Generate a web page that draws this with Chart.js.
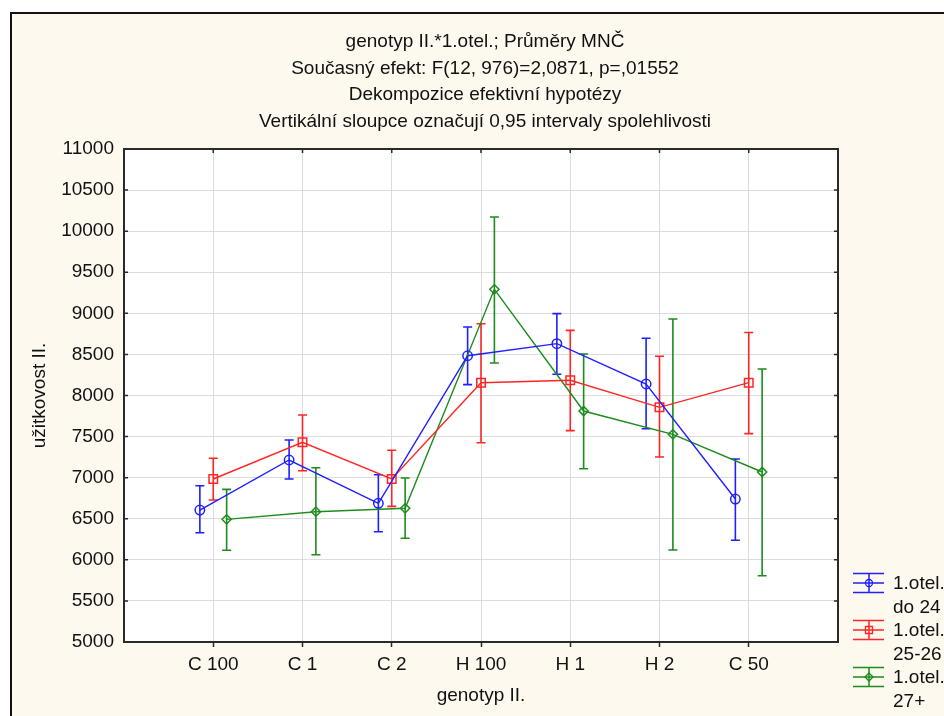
<!DOCTYPE html>
<html>
<head>
<meta charset="utf-8">
<script src="https://cdn.jsdelivr.net/npm/chart.js@4/dist/chart.umd.min.js"></script>
<style>
html,body{margin:0;padding:0;background:#fff;}
#wrap{position:relative;width:944px;height:716px;}
</style>
</head>
<body>
<div id="wrap"><canvas id="c" width="944" height="716"></canvas></div>
<script>
// ---- data ----
const categories = ['C 100', 'C 1', 'C 2', 'H 100', 'H 1', 'H 2', 'C 50'];
const titleLines = [
  'genotyp II.*1.otel.; Průměry MNČ',
  'Současný efekt: F(12, 976)=2,0871, p=,01552',
  'Dekompozice efektivní hypotézy',
  'Vertikální sloupce označují 0,95 intervaly spolehlivosti'
];
const yAxisTitle = 'užitkovost II.';
const xAxisTitle = 'genotyp II.';
const yTicks = [5000, 5500, 6000, 6500, 7000, 7500, 8000, 8500, 9000, 9500, 10000, 10500, 11000];

const labelDo24 = ['1.otel.', 'do 24'];
const meanDo24 = [6606, 7215, 6688, 8484, 8631, 8140, 6740];
const lowDo24  = [6330, 6984, 6342, 8132, 8258, 7596, 6238];
const highDo24 = [6902, 7458, 7036, 8833, 8996, 8696, 7227];

const label2526 = ['1.otel.', '25-26'];
const mean2526 = [6984, 7430, 6984, 8156, 8185, 7856, 8156];
const low2526  = [6728, 7084, 6651, 7425, 7572, 7251, 7536];
const high2526 = [7236, 7763, 7333, 8874, 8793, 8477, 8766];

const label27 = ['1.otel.', '27+'];
const mean27 = [6493, 6586, 6627, 9292, 7811, 7527, 7069];
const low27  = [6116, 6062, 6262, 8395, 7109, 6120, 5807];
const high27 = [6858, 7121, 6996, 10172, 8505, 8931, 8322];

// ---- styling ----
const FONT = '"Liberation Sans", Arial, sans-serif';
const CREAM = '#fdf9ef';
const series = [
  {label: labelDo24, mean: meanDo24, low: lowDo24, high: highDo24, color: '#1f1fff', style: 'circle', r: 4.7, off: -0.15},
  {label: label2526, mean: mean2526, low: low2526, high: high2526, color: '#ff2525', style: 'rect', r: 6, off: 0},
  {label: label27,   mean: mean27,   low: low27,   high: high27,   color: '#1d8c1d', style: 'rectRot', r: 4.6, off: 0.15}
];

const datasets = series.map(s => ({
  label: s.label.join(' '),
  data: s.mean.map((v, i) => ({x: i + 1 + s.off, y: v})),
  borderColor: s.color,
  backgroundColor: 'rgba(0,0,0,0)',
  borderWidth: 1.4,
  pointStyle: s.style,
  pointRadius: s.r,
  pointBorderWidth: 1.5,
  pointBorderColor: s.color,
  pointBackgroundColor: 'rgba(0,0,0,0)',
  tension: 0,
  fill: false
}));

const framePlugin = {
  id: 'frame',
  beforeDraw(chart) {
    const ctx = chart.ctx;
    const a = chart.chartArea;
    ctx.save();
    ctx.fillStyle = '#ffffff';
    ctx.fillRect(0, 0, chart.width, chart.height);
    ctx.fillStyle = CREAM;
    ctx.fillRect(10, 12, chart.width, chart.height);
    ctx.strokeStyle = '#111';
    ctx.lineWidth = 2;
    ctx.beginPath();
    ctx.moveTo(11, chart.height + 2);
    ctx.lineTo(11, 13);
    ctx.lineTo(chart.width + 2, 13);
    ctx.stroke();
    ctx.fillStyle = '#ffffff';
    ctx.fillRect(a.left, a.top, a.right - a.left, a.bottom - a.top);
    // titles
    ctx.fillStyle = '#111';
    ctx.font = '19px ' + FONT;
    ctx.textAlign = 'center';
    ctx.textBaseline = 'alphabetic';
    titleLines.forEach((t, i) => ctx.fillText(t, 485, 47 + i * 26.7));
    ctx.restore();
  },
  beforeDatasetsDraw(chart) {
    const ctx = chart.ctx;
    const xs = chart.scales.x, ys = chart.scales.y;
    ctx.save();
    series.forEach(s => {
      ctx.strokeStyle = s.color;
      ctx.lineWidth = 1.6;
      s.mean.forEach((v, i) => {
        const x = xs.getPixelForValue(i + 1 + s.off);
        const yl = ys.getPixelForValue(s.low[i]);
        const yh = ys.getPixelForValue(s.high[i]);
        ctx.beginPath();
        ctx.moveTo(x, yl); ctx.lineTo(x, yh);
        ctx.moveTo(x - 4.5, yl); ctx.lineTo(x + 4.5, yl);
        ctx.moveTo(x - 4.5, yh); ctx.lineTo(x + 4.5, yh);
        ctx.stroke();
      });
    });
    ctx.restore();
  },
  afterDraw(chart) {
    const ctx = chart.ctx;
    const a = chart.chartArea;
    const xs = chart.scales.x, ys = chart.scales.y;
    ctx.save();
    // plot border
    ctx.strokeStyle = '#2a2a2a';
    ctx.lineWidth = 2;
    ctx.strokeRect(a.left, a.top, a.right - a.left, a.bottom - a.top);
    // inward ticks
    ctx.lineWidth = 1.5;
    ctx.beginPath();
    yTicks.forEach(v => {
      const y = ys.getPixelForValue(v);
      ctx.moveTo(a.left, y); ctx.lineTo(a.left + 4, y);
      ctx.moveTo(a.right, y); ctx.lineTo(a.right - 4, y);
    });
    categories.forEach((c, i) => {
      const x = xs.getPixelForValue(i + 1);
      ctx.moveTo(x, a.top); ctx.lineTo(x, a.top + 4);
    });
    ctx.stroke();
    // legend
    ctx.font = '19px ' + FONT;
    ctx.textAlign = 'left';
    ctx.textBaseline = 'middle';
    series.forEach((s, k) => {
      const cy = 583 + k * 47;
      const x0 = 853, x1 = 884, cx = 869;
      ctx.strokeStyle = s.color;
      ctx.lineWidth = 1.5;
      ctx.beginPath();
      ctx.moveTo(x0, cy - 9.5); ctx.lineTo(x1, cy - 9.5);
      ctx.moveTo(x0, cy); ctx.lineTo(x1, cy);
      ctx.moveTo(x0, cy + 9.5); ctx.lineTo(x1, cy + 9.5);
      ctx.moveTo(cx, cy - 9.5); ctx.lineTo(cx, cy + 9.5);
      ctx.stroke();
      ctx.lineWidth = 1.3;
      ctx.beginPath();
      if (s.style === 'circle') {
        ctx.arc(cx, cy, 3.5, 0, Math.PI * 2);
      } else if (s.style === 'rect') {
        ctx.rect(cx - 3.5, cy - 3.5, 7, 7);
      } else {
        ctx.moveTo(cx, cy - 4); ctx.lineTo(cx + 4, cy); ctx.lineTo(cx, cy + 4); ctx.lineTo(cx - 4, cy); ctx.closePath();
      }
      ctx.stroke();
      ctx.fillStyle = '#111';
      ctx.fillText(s.label[0], 893, cy + 1);
      ctx.fillText(s.label[1], 893, cy + 25);
    });
    ctx.restore();
  }
};

new Chart(document.getElementById('c'), {
  type: 'line',
  data: {datasets},
  plugins: [framePlugin],
  options: {
    responsive: false,
    devicePixelRatio: 1,
    animation: false,
    layout: {padding: {top: 149, right: 106, left: 0, bottom: 0}},
    plugins: {legend: {display: false}, tooltip: {enabled: false}, title: {display: false}},
    elements: {line: {tension: 0}},
    scales: {
      x: {
        type: 'linear',
        min: 0, max: 8,
        afterBuildTicks: sc => { sc.ticks = categories.map((c, i) => ({value: i + 1})); },
        afterFit: sc => { sc.height = 74; },
        ticks: {
          callback: v => categories[v - 1] || '',
          color: '#111',
          font: {family: FONT, size: 19},
          padding: 6,
          maxRotation: 0,
          autoSkip: false
        },
        grid: {color: '#dcdcdc', lineWidth: 1, drawTicks: true, tickLength: 5, tickColor: '#2a2a2a', tickWidth: 1.5},
        border: {display: false},
        title: {display: true, text: xAxisTitle, color: '#111', font: {family: FONT, size: 19}, padding: {top: 0, bottom: 9}}
      },
      y: {
        type: 'linear',
        min: 5000, max: 11000,
        afterBuildTicks: sc => { sc.ticks = yTicks.map(v => ({value: v})); },
        afterFit: sc => { sc.width = 124; },
        ticks: {callback: v => String(v), color: '#111', font: {family: FONT, size: 19}, padding: 10, autoSkip: false},
        grid: {color: '#dcdcdc', lineWidth: 1, drawTicks: false},
        border: {display: false},
        title: {display: true, text: yAxisTitle, color: '#111', font: {family: FONT, size: 19}, padding: {top: 28, bottom: 0}}
      }
    }
  }
});
</script>
</body>
</html>
